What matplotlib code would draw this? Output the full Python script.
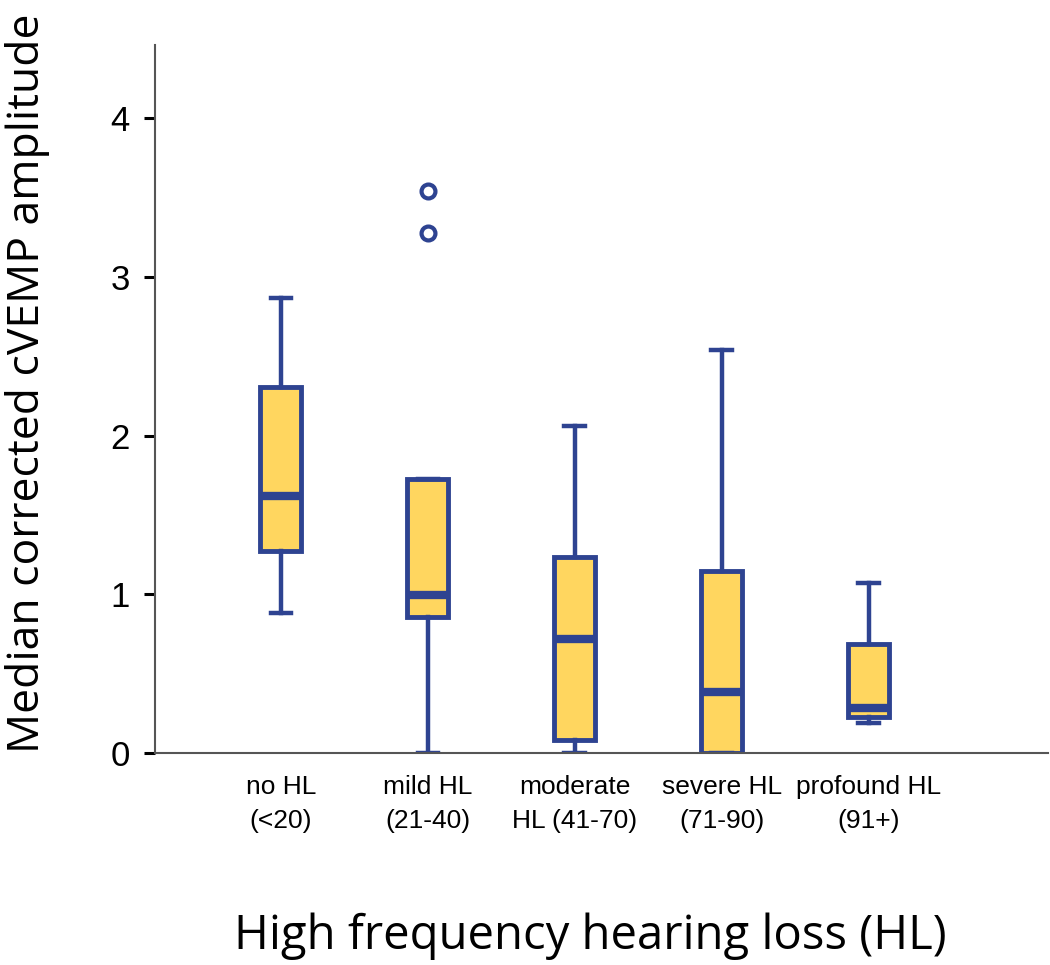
import matplotlib
matplotlib.use("Agg")
import matplotlib.pyplot as plt

# ---- data ----
groups = ["no HL\n(<20)", "mild HL\n(21-40)", "moderate\nHL (41-70)", "severe HL\n(71-90)", "profound HL\n(91+)"]
whislo = [0.88, 0.00, 0.00, 0.00, 0.19]
q1 = [1.275, 0.855, 0.08, 0.00, 0.228]
med = [1.62, 0.995, 0.72, 0.385, 0.285]
q3 = [2.305, 1.725, 1.235, 1.147, 0.685]
whishi = [2.865, 1.725, 2.06, 2.54, 1.07]
fliers = [[], [3.275, 3.54], [], [], []]

EDGE = "#2E4391"
FILL = "#FFD65F"

stats = []
for i in range(len(groups)):
    stats.append(dict(label=groups[i], whislo=whislo[i], q1=q1[i], med=med[i],
                      q3=q3[i], whishi=whishi[i], fliers=fliers[i]))

fig = plt.figure(figsize=(10.5, 9.65), dpi=100)
ax = fig.add_axes([0.1476, 0.2197, 0.8504, 0.7333])

ax.bxp(stats, positions=[1, 2, 3, 4, 5], widths=0.28, patch_artist=True,
       boxprops=dict(facecolor=FILL, edgecolor=EDGE, linewidth=3.5),
       medianprops=dict(color=EDGE, linewidth=6, solid_capstyle="butt"),
       whiskerprops=dict(color=EDGE, linewidth=3.2),
       capprops=dict(color=EDGE, linewidth=3.2),
       flierprops=dict(marker="o", markerfacecolor="white", markeredgecolor=EDGE,
                       markersize=10, markeredgewidth=3),
       capwidths=0.14)

ax.set_xlim(0.143, 6.22)
ax.set_ylim(0, 4.46)
ax.set_yticks([0, 1, 2, 3, 4])
ax.set_yticklabels(["0", "1", "2", "3", "4"], fontsize=25, family=["Liberation Sans", "DejaVu Sans"])
ax.tick_params(axis="y", length=8, width=2.2, color="black", pad=10)
ax.tick_params(axis="x", length=0, pad=16)
ax.set_xticklabels(groups, fontsize=19, linespacing=1.5,
                   family=["Liberation Sans Narrow", "Liberation Sans", "DejaVu Sans"])

for side in ["top", "right"]:
    ax.spines[side].set_visible(False)
for side in ["left", "bottom"]:
    ax.spines[side].set_color("#555555")
    ax.spines[side].set_linewidth(1.5)

ax.set_ylabel("Median corrected cVEMP amplitude", fontsize=32,
              family=["Open Sans", "DejaVu Sans"])
ax.yaxis.set_label_coords(-0.118, 0.522)
ax.set_xlabel("High frequency hearing loss (HL)", fontsize=34, labelpad=58,
              family=["Open Sans", "DejaVu Sans"])
ax.xaxis.set_label_coords(0.487, -0.225)

fig.savefig("out.png", dpi=100)
